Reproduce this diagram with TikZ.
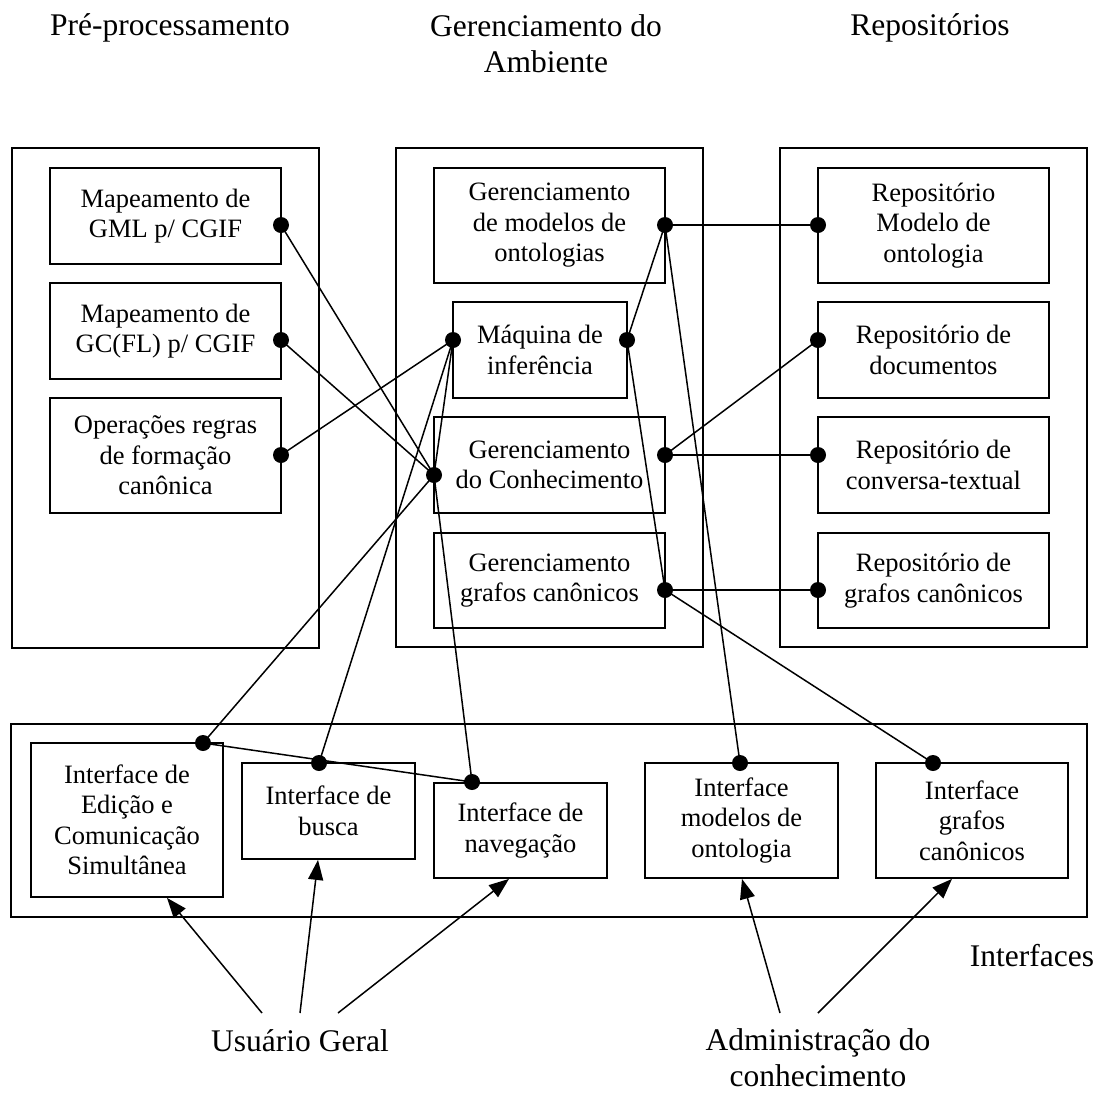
\documentclass[tikz,border=0pt]{standalone}
\usepackage{fontspec}
\setmainfont{Liberation Serif}
\usetikzlibrary{fit,arrows.meta}
\newcommand\boxfont{\fontsize{26.5}{30.5}\selectfont}
\newcommand\lblfont{\fontsize{31.5}{36}\selectfont}
\begin{document}
\begin{tikzpicture}[x=1pt,y=-1pt,
  frame/.style={draw, line width=1.8pt, inner sep=0pt},
  box/.style={draw, line width=1.8pt, inner sep=0pt, align=center, font=\boxfont},
  dot/.style={circle, fill=black, inner sep=0pt, minimum size=16pt},
  link/.style={line width=1.5pt},
  arr/.style={line width=1.5pt, -{Triangle[length=20pt,width=15pt]}},
  lbl/.style={font=\lblfont, align=center, inner sep=0pt}]
\useasboundingbox (0,0) rectangle (1106,1093);

% headers (anchor base = baseline of last line)
\node[lbl, anchor=base] (hpre) at (170,35) {Pré-processamento};
\node[lbl, anchor=base] (hger) at (546,72) {Gerenciamento do\\Ambiente};
\node[lbl, anchor=base] (hrep) at (930,35) {Repositórios};
\node[lbl, anchor=base] (hint) at (1032,966) {Interfaces};
\node[lbl, anchor=base] (ug) at (300,1051) {Usuário Geral};
\node[lbl, anchor=base] (adm) at (818,1086) {Administração do\\conhecimento};

% outer frames
\node[frame, fit={(12,148) (319,648)}] (pre) {};
\node[frame, fit={(396,148) (703,647)}] (ger) {};
\node[frame, fit={(780,148) (1087,647)}] (rep) {};
\node[frame, fit={(11,724) (1087,917)}] (int) {};

% left boxes
\node[box, minimum width=231pt, minimum height=96pt] (gml) at (165.5,216) {Mapeamento de\\GML p/ CGIF};
\node[box, minimum width=231pt, minimum height=96pt] (gcfl) at (165.5,331) {Mapeamento de\\GC(FL) p/ CGIF};
\node[box, minimum width=231pt, minimum height=115pt] (ops) at (165.5,455.5) {Operações regras\\de formação\\canônica};

% middle boxes
\node[box, minimum width=231pt, minimum height=115pt] (gmo) at (549.5,225.5) {Gerenciamento\\de modelos de\\ontologias};
\node[box, minimum width=174pt, minimum height=96pt] (maq) at (540,350) {Máquina de\\inferência};
\node[box, minimum width=231pt, minimum height=96pt] (gco) at (549.5,465) {Gerenciamento\\do Conhecimento};
\node[box, minimum width=231pt, minimum height=95pt] (ggc) at (549.5,580.5) {Gerenciamento\\grafos canônicos};

% right boxes
\node[box, minimum width=231pt, minimum height=115pt] (rmo) at (933.5,225.5) {Repositório\\Modelo de\\ontologia};
\node[box, minimum width=231pt, minimum height=96pt] (rdoc) at (933.5,350) {Repositório de\\documentos};
\node[box, minimum width=231pt, minimum height=96pt] (rconv) at (933.5,465) {Repositório de\\conversa-textual};
\node[box, minimum width=231pt, minimum height=95pt] (rgraf) at (933.5,580.5) {Repositório de\\grafos canônicos};

% interface boxes
\node[box, minimum width=192pt, minimum height=154pt] (iedit) at (127,820) {Interface de\\Edição e\\Comunicação\\Simultânea};
\node[box, minimum width=173pt, minimum height=96pt] (ibusca) at (328.5,811) {Interface de\\busca};
\node[box, minimum width=173pt, minimum height=95pt] (inav) at (520.5,830.5) {Interface de\\navegação};
\node[box, minimum width=193pt, minimum height=115pt] (imod) at (741.5,820.5) {Interface\\modelos de\\ontologia};
\node[box, minimum width=192pt, minimum height=115pt] (igraf) at (972,820.5) {Interface\\grafos\\canônicos};

% dots
\node[dot] (pgml) at (281,225) {};
\node[dot] (pgcfl) at (281,340) {};
\node[dot] (pops) at (281,455) {};
\node[dot] (pgmo) at (665,225) {};
\node[dot] (pmaqL) at (453,340) {};
\node[dot] (pmaqR) at (627,340) {};
\node[dot] (pgcoL) at (434,475) {};
\node[dot] (pgcoR) at (665,455) {};
\node[dot] (pggc) at (665,590) {};
\node[dot] (prmo) at (818,225) {};
\node[dot] (prdoc) at (818,340) {};
\node[dot] (prconv) at (818,455) {};
\node[dot] (prgraf) at (818,590) {};
\node[dot] (piedit) at (203,743) {};
\node[dot] (pibusca) at (319,763) {};
\node[dot] (pinav) at (472,782) {};
\node[dot] (pimod) at (740,763) {};
\node[dot] (pigraf) at (933,763) {};

% connectors
\draw[link] (pgml.center) -- (pgcoL.center);
\draw[link] (pgcfl.center) -- (pgcoL.center);
\draw[link] (pops.center) -- (pmaqL.center);
\draw[link] (pmaqL.center) -- (pibusca.center);
\draw[link] (pmaqL.center) -- (pgcoL.center);
\draw[link] (pgcoL.center) -- (piedit.center);
\draw[link] (pgcoL.center) -- (pinav.center);
\draw[link] (piedit.center) -- (pinav.center);
\draw[link] (pmaqR.center) -- (pgmo.center);
\draw[link] (pmaqR.center) -- (pggc.center);
\draw[link] (pgmo.center) -- (prmo.center);
\draw[link] (pgmo.center) -- (pimod.center);
\draw[link] (pgcoR.center) -- (prdoc.center);
\draw[link] (pgcoR.center) -- (prconv.center);
\draw[link] (pggc.center) -- (prgraf.center);
\draw[link] (pggc.center) -- (pigraf.center);

% arrows
\coordinate (ua1) at (262,1013);
\coordinate (ua2) at (300,1013);
\coordinate (ua3) at (338,1013);
\coordinate (aa1) at (780,1013);
\coordinate (aa2) at (818,1013);
\draw[arr] (ua1) -- (iedit.south -| 167,0);
\draw[arr] (ua2) -- (ibusca.south -| 318,0);
\draw[arr] (ua3) -- (inav.south -| 509,0);
\draw[arr] (aa1) -- (imod.south -| 742,0);
\draw[arr] (aa2) -- (igraf.south -| 952,0);
\end{tikzpicture}
\end{document}
